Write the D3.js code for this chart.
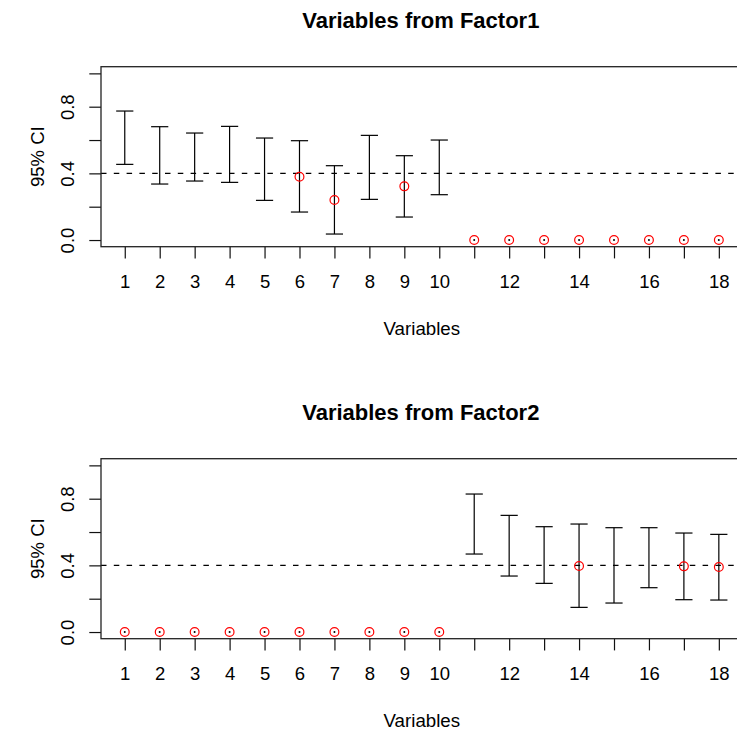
<!DOCTYPE html>
<html>
<head>
<meta charset="utf-8">
<script src="https://cdn.jsdelivr.net/npm/d3@7"></script>
<style>
  html, body { margin: 0; padding: 0; background: #fff; }
  svg { display: block; }
  text { font-family: "Liberation Sans", Arial, Helvetica, sans-serif; fill: #000; }
</style>
</head>
<body>
<svg id="chart" width="737" height="731"></svg>
<script>
// ---- data ----
const variables = d3.range(1, 19);
const xTickLabels = ["1","2","3","4","5","6","7","8","9","10","","12","","14","","16","","18"];
const yTicks = [0, 0.2, 0.4, 0.6, 0.8, 1.0];
const yTickLabels = ["0.0", "", "0.4", "", "0.8", ""];
const refLine = 0.4;

const f1Lower = [0.454, 0.336, 0.354, 0.346, 0.238, 0.168, 0.036, 0.244, 0.138, 0.272, 0, 0, 0, 0, 0, 0, 0, 0];
const f1Upper = [0.774, 0.680, 0.642, 0.682, 0.612, 0.596, 0.446, 0.628, 0.506, 0.600, 0, 0, 0, 0, 0, 0, 0, 0];
const f1Est   = [null, null, null, null, null, 0.380, 0.240, null, 0.322, null, 0, 0, 0, 0, 0, 0, 0, 0];

const f2Lower = [0, 0, 0, 0, 0, 0, 0, 0, 0, 0, 0.468, 0.336, 0.292, 0.148, 0.174, 0.266, 0.194, 0.192];
const f2Upper = [0, 0, 0, 0, 0, 0, 0, 0, 0, 0, 0.828, 0.700, 0.632, 0.648, 0.626, 0.626, 0.594, 0.586];
const f2Est   = [0, 0, 0, 0, 0, 0, 0, 0, 0, 0, null, null, null, 0.396, null, null, 0.394, 0.390];

const panels = [
  { title: "Variables from Factor1", lower: f1Lower, upper: f1Upper, est: f1Est, offset: 0 },
  { title: "Variables from Factor2", lower: f2Lower, upper: f2Upper, est: f2Est, offset: 392 }
];

// ---- layout ----
const svg = d3.select("#chart");
const left = 101, right = 742.6;
const x = d3.scaleLinear().domain([0.32, 18.68]).range([left, right]);

panels.forEach(p => {
  const top = 66.7 + p.offset, bottom = 246.7 + p.offset;
  const y = d3.scaleLinear().domain([-0.04, 1.04]).range([bottom, top]);
  const g = svg.append("g");

  // title
  g.append("text")
    .attr("x", (left + right) / 2 - 1)
    .attr("y", 28 + p.offset)
    .attr("text-anchor", "middle")
    .style("font-size", "22px")
    .style("font-weight", "bold")
    .text(p.title);

  // x axis
  const xAxis = d3.axisBottom(x)
    .tickValues(variables)
    .tickSize(11.7)
    .tickPadding(0)
    .tickFormat((d, i) => xTickLabels[i]);
  const gx = g.append("g").attr("transform", `translate(0,${bottom})`).call(xAxis);
  gx.select(".domain").remove();
  gx.selectAll(".tick line").attr("stroke", "#111").attr("stroke-width", 1.2);
  gx.selectAll(".tick text")
    .attr("y", 41.7).attr("dy", null)
    .style("font-size", "18.5px")
    .style("font-family", "'Liberation Sans', Arial, sans-serif");

  // y axis
  const yAxis = d3.axisLeft(y)
    .tickValues(yTicks)
    .tickSize(11.7)
    .tickFormat((d, i) => yTickLabels[i]);
  const gy = g.append("g").attr("transform", `translate(${left},0)`).call(yAxis);
  gy.select(".domain").remove();
  gy.selectAll(".tick line").attr("stroke", "#111").attr("stroke-width", 1.2);
  gy.selectAll(".tick text")
    .attr("x", null).attr("dy", null)
    .attr("text-anchor", "middle")
    .attr("transform", "translate(-27.5,0) rotate(-90)")
    .style("font-size", "18.5px")
    .style("font-family", "'Liberation Sans', Arial, sans-serif");

  // axis labels
  g.append("text")
    .attr("x", (left + right) / 2)
    .attr("y", 335 + p.offset)
    .attr("text-anchor", "middle")
    .style("font-size", "18.7px")
    .text("Variables");
  g.append("text")
    .attr("transform", `translate(44,${(top + bottom) / 2}) rotate(-90)`)
    .attr("text-anchor", "middle")
    .style("font-size", "18.5px")
    .text("95% CI");

  // reference line
  g.append("line")
    .attr("x1", left).attr("x2", right)
    .attr("y1", y(refLine)).attr("y2", y(refLine))
    .attr("stroke", "#000").attr("stroke-width", 1.2)
    .attr("stroke-dasharray", "5.5,7.3");

  // error bars
  const cap = 8.6;
  variables.forEach((v, i) => {
    const lo = p.lower[i], hi = p.upper[i];
    if (hi - lo > 0) {
      g.append("line").attr("x1", x(v)).attr("x2", x(v))
        .attr("y1", y(lo)).attr("y2", y(hi))
        .attr("stroke", "#000").attr("stroke-width", 1.2);
      [lo, hi].forEach(val => {
        g.append("line").attr("x1", x(v) - cap).attr("x2", x(v) + cap)
          .attr("y1", y(val)).attr("y2", y(val))
          .attr("stroke", "#000").attr("stroke-width", 1.2);
      });
    } else {
      g.append("circle").attr("cx", x(v)).attr("cy", y(lo)).attr("r", 1)
        .attr("fill", "#000");
    }
  });

  // point estimates
  g.selectAll("circle.est")
    .data(variables.map((v, i) => ({ v, e: p.est[i] })).filter(d => d.e !== null))
    .enter().append("circle")
    .attr("class", "est")
    .attr("cx", d => x(d.v)).attr("cy", d => y(d.e)).attr("r", 4.4)
    .attr("fill", "none").attr("stroke", "#ff0000").attr("stroke-width", 1.2);

  // box
  g.append("rect")
    .attr("x", left).attr("y", top)
    .attr("width", right - left).attr("height", bottom - top)
    .attr("fill", "none").attr("stroke", "#222").attr("stroke-width", 1.3);
});
</script>
</body>
</html>
